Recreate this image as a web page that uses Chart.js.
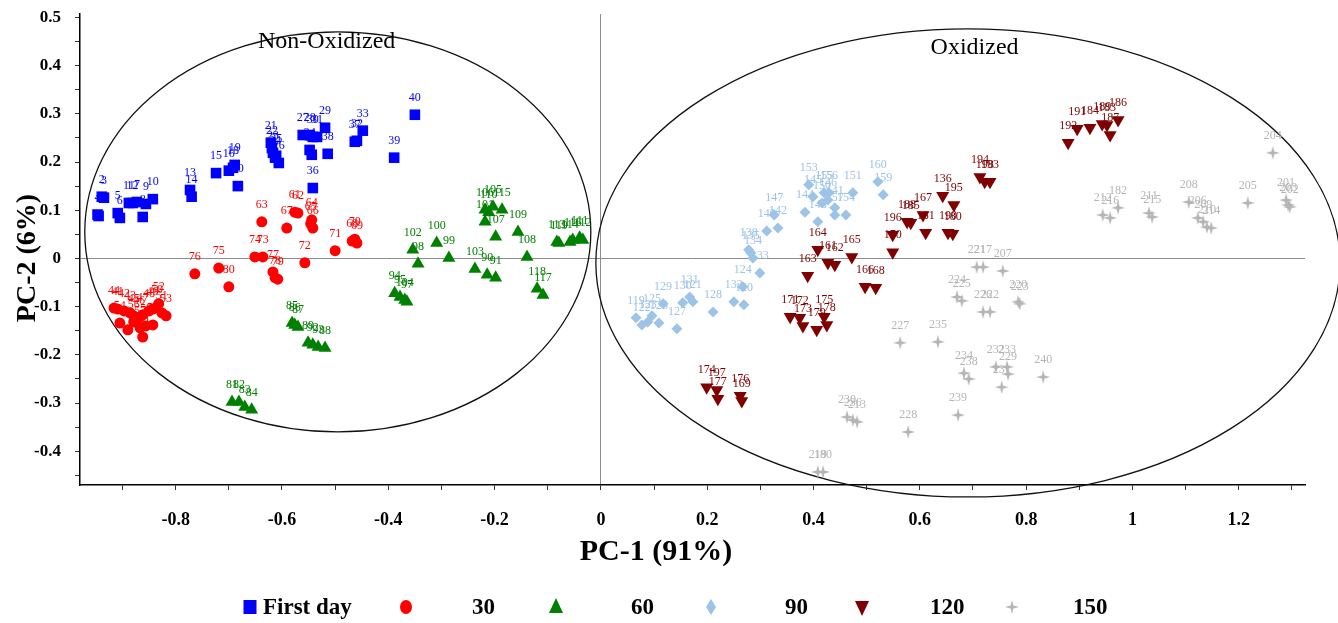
<!DOCTYPE html>
<html>
<head>
<meta charset="utf-8">
<script src="https://cdn.jsdelivr.net/npm/chart.js@4.4.1/dist/chart.umd.min.js"></script>
<style>
  html, body { margin: 0; padding: 0; background: #fff; }
  #wrap { width: 1338px; height: 623px; }
</style>
</head>
<body>
<div id="wrap"><canvas id="c" width="1338" height="623"></canvas></div>
<script>
// PCA score plot: PC-1 vs PC-2, samples grouped by storage day.

// First day
const fdLabels = ["1","4","2","3","5","6","11","12","7","8","9","10","13","14","15","16","18","19","20","21","22","23","24","25","26","27","28","30","31","34","35","29","38","36","32","37","33","39","40"];
const fdX = [-0.945,-0.947,-0.939,-0.935,-0.909,-0.905,-0.888,-0.881,-0.873,-0.862,-0.856,-0.843,-0.773,-0.770,-0.724,-0.700,-0.692,-0.689,-0.683,-0.621,-0.619,-0.617,-0.613,-0.611,-0.606,-0.561,-0.548,-0.542,-0.534,-0.548,-0.544,-0.519,-0.514,-0.542,-0.459,-0.463,-0.448,-0.389,-0.350];
const fdY = [0.088,0.091,0.128,0.126,0.094,0.084,0.115,0.115,0.117,0.086,0.113,0.123,0.142,0.128,0.177,0.182,0.188,0.194,0.150,0.240,0.229,0.219,0.209,0.213,0.198,0.256,0.256,0.252,0.252,0.225,0.215,0.271,0.217,0.146,0.244,0.242,0.265,0.209,0.298];

// day 30
const d30Labels = ["44","41","42","43","45","46","47","48","49","50","52","51","53","54","55","56","57","58","59","60","63","67","61","62","64","65","66","68","69","70","71","72","73","74","75","76","77","78","79","80"];
const d30X = [-0.916,-0.909,-0.897,-0.886,-0.879,-0.869,-0.862,-0.850,-0.843,-0.835,-0.832,-0.826,-0.818,-0.905,-0.890,-0.879,-0.867,-0.856,-0.843,-0.862,-0.638,-0.591,-0.576,-0.570,-0.544,-0.546,-0.542,-0.468,-0.459,-0.463,-0.500,-0.557,-0.636,-0.651,-0.719,-0.764,-0.617,-0.613,-0.608,-0.700];
const d30Y = [-0.103,-0.105,-0.109,-0.113,-0.119,-0.123,-0.117,-0.109,-0.105,-0.101,-0.094,-0.113,-0.119,-0.134,-0.148,-0.132,-0.144,-0.140,-0.138,-0.163,0.076,0.063,0.096,0.094,0.080,0.072,0.063,0.036,0.032,0.040,0.016,-0.009,0.003,0.003,-0.020,-0.032,-0.028,-0.040,-0.043,-0.059];

// day 60
const d60Labels = ["81","82","83","84","85","86","87","89","92","93","88","94","95","104","97","102","98","100","99","103","90","91","106","110","105","115","101","107","109","108","118","117","113","119","114","116","111","112"];
const d60X = [-0.694,-0.681,-0.670,-0.657,-0.581,-0.576,-0.570,-0.551,-0.542,-0.532,-0.519,-0.388,-0.378,-0.369,-0.365,-0.354,-0.344,-0.309,-0.286,-0.237,-0.214,-0.198,-0.218,-0.211,-0.203,-0.186,-0.218,-0.198,-0.156,-0.139,-0.120,-0.109,-0.083,-0.079,-0.058,-0.053,-0.040,-0.034];
const d60Y = [-0.298,-0.298,-0.308,-0.314,-0.134,-0.138,-0.142,-0.175,-0.179,-0.184,-0.186,-0.072,-0.080,-0.086,-0.090,0.018,-0.011,0.032,0.001,-0.022,-0.034,-0.040,0.101,0.096,0.107,0.101,0.076,0.045,0.055,0.003,-0.063,-0.076,0.034,0.032,0.034,0.038,0.043,0.038];

// day 90
const d90Labels = ["119","122","123","125","126","129","127","130","131","121","128","132","124","120","133","135","138","134","140","142","147","144","148","145","153","150","155","156","146","141","157","154","151","160","159"];
const d90X = [0.066,0.077,0.088,0.096,0.109,0.117,0.143,0.154,0.167,0.173,0.211,0.250,0.267,0.269,0.299,0.282,0.278,0.286,0.312,0.333,0.326,0.384,0.408,0.399,0.391,0.416,0.420,0.429,0.427,0.440,0.440,0.461,0.474,0.521,0.531];
const d90Y = [-0.123,-0.138,-0.132,-0.119,-0.134,-0.094,-0.146,-0.092,-0.080,-0.090,-0.111,-0.090,-0.059,-0.096,-0.030,0.011,0.018,0.001,0.057,0.063,0.090,0.096,0.076,0.128,0.153,0.115,0.136,0.136,0.121,0.105,0.090,0.090,0.136,0.159,0.132];

// day 120
const d120Labels = ["164","161","162","165","163","166","168","171","172","173","179","175","178","196","170","188","185","167","181","136","195","190","180","194","198","193","192","191","184","189","183","187","186","174","197","177","176","169"];
const d120X = [0.408,0.427,0.440,0.472,0.389,0.497,0.517,0.356,0.374,0.380,0.406,0.420,0.425,0.549,0.549,0.576,0.583,0.606,0.611,0.643,0.664,0.653,0.662,0.713,0.722,0.732,0.879,0.896,0.920,0.943,0.952,0.958,0.973,0.199,0.218,0.220,0.262,0.265];
const d120Y = [0.018,-0.009,-0.013,0.003,-0.036,-0.059,-0.061,-0.121,-0.123,-0.140,-0.148,-0.121,-0.138,0.049,0.013,0.076,0.074,0.090,0.053,0.130,0.111,0.053,0.051,0.169,0.159,0.159,0.240,0.269,0.271,0.279,0.277,0.256,0.287,-0.267,-0.273,-0.291,-0.285,-0.296];

// day 150
const d150Labels = ["204","205","201","203","202","208","206","209","210","214","211","215","212","216","182","221","217","207","224","225","220","223","226","222","227","235","234","238","232","233","229","231","230","236","213","228","239","240","219","180"];
const d150X = [1.264,1.217,1.289,1.293,1.296,1.106,1.123,1.133,1.140,1.148,1.031,1.037,0.944,0.958,0.973,0.707,0.719,0.756,0.670,0.679,0.785,0.788,0.719,0.732,0.563,0.634,0.683,0.692,0.743,0.764,0.766,0.754,0.463,0.474,0.482,0.578,0.672,0.832,0.408,0.418];
const d150Y = [0.219,0.115,0.121,0.111,0.107,0.117,0.084,0.076,0.065,0.063,0.094,0.086,0.090,0.084,0.105,-0.018,-0.018,-0.026,-0.080,-0.088,-0.090,-0.094,-0.111,-0.111,-0.175,-0.173,-0.238,-0.250,-0.225,-0.225,-0.240,-0.267,-0.329,-0.335,-0.339,-0.360,-0.325,-0.246,-0.443,-0.443];

const groupNames = ["First day", "30", "60", "90", "120", "150"];
const xTicks = [-0.9,-0.8,-0.7,-0.6,-0.5,-0.4,-0.3,-0.2,-0.1,0,0.1,0.2,0.3,0.4,0.5,0.6,0.7,0.8,0.9,1,1.1,1.2,1.3];
const xTickLabels = ["", "-0.8", "", "-0.6", "", "-0.4", "", "-0.2", "", "0", "", "0.2", "", "0.4", "", "0.6", "", "0.8", "", "1", "", "1.2", ""];
const yTicks = [0.5,0.45,0.4,0.35,0.3,0.25,0.2,0.15,0.1,0.05,0,-0.05,-0.1,-0.15,-0.2,-0.25,-0.3,-0.35,-0.4,-0.45];
const yTickLabels = ["0.5","","0.4","","0.3","","0.2","","0.1","","0","","-0.1","","-0.2","","-0.3","","-0.4",""];

const SERIF = "'Liberation Serif', 'Times New Roman', serif";
const COLORS = ["#0000ff", "#ff0000", "#008000", "#9dc3e6", "#7f0000", "#b5b5b5"];

// four-pointed star used for the day-150 group
function makeStar(size, color) {
  const c = document.createElement("canvas");
  c.width = size; c.height = size;
  const g = c.getContext("2d");
  const m = size / 2, k = size * 0.1;
  g.fillStyle = color;
  g.beginPath();
  g.moveTo(m, 0); g.lineTo(m + k, m - k); g.lineTo(size, m); g.lineTo(m + k, m + k);
  g.lineTo(m, size); g.lineTo(m - k, m + k); g.lineTo(0, m); g.lineTo(m - k, m - k);
  g.closePath(); g.fill();
  return c;
}
const starImg = makeStar(14, COLORS[5]);

function pts(xs, ys) { return xs.map((v, i) => ({ x: v, y: ys[i] })); }

const groups = [
  { labels: fdLabels, xs: fdX, ys: fdY, style: "rect", r: 7.5, rot: 0 },
  { labels: d30Labels, xs: d30X, ys: d30Y, style: "circle", r: 5.5, rot: 0 },
  { labels: d60Labels, xs: d60X, ys: d60Y, style: "triangle", r: 7.5, rot: 0 },
  { labels: d90Labels, xs: d90X, ys: d90Y, style: "rectRot", r: 5.5, rot: 0 },
  { labels: d120Labels, xs: d120X, ys: d120Y, style: "triangle", r: 7.5, rot: 180 },
  { labels: d150Labels, xs: d150X, ys: d150Y, style: starImg, r: 7, rot: 0 },
];

const datasets = groups.map((g, i) => ({
  label: groupNames[i],
  data: pts(g.xs, g.ys),
  pointStyle: g.style,
  pointRadius: g.r,
  pointRotation: g.rot,
  backgroundColor: COLORS[i],
  borderColor: COLORS[i],
  borderWidth: 0,
  pointLabels: g.labels,
}));

// group ellipses (data units)
const ELLIPSES = [
  { cx: -0.495, cy: 0.055, rx: 0.476, ry: 0.415 },
  { cx: 0.6905, cy: -0.0093, rx: 0.700, ry: 0.4855 },
];

function isZero(v) { return Math.abs(v) < 1e-9; }

const decor = {
  id: "decor",
  beforeDatasetsDraw(chart) {
    const { ctx, scales: { x, y } } = chart;
    ctx.save();
    ctx.strokeStyle = "#111";
    ctx.lineWidth = 1.3;
    for (const e of ELLIPSES) {
      const cx = x.getPixelForValue(e.cx), cy = y.getPixelForValue(e.cy);
      const rx = x.getPixelForValue(e.cx + e.rx) - cx;
      const ry = cy - y.getPixelForValue(e.cy + e.ry);
      ctx.beginPath();
      ctx.ellipse(cx, cy, rx, ry, 0, 0, Math.PI * 2);
      ctx.stroke();
    }
    ctx.restore();
  },
  afterDatasetsDraw(chart) {
    const { ctx, scales: { x, y } } = chart;
    ctx.save();
    ctx.font = `12px ${SERIF}`;
    ctx.textAlign = "center";
    ctx.textBaseline = "middle";
    chart.data.datasets.forEach((ds, di) => {
      const meta = chart.getDatasetMeta(di);
      ctx.fillStyle = COLORS[di];
      meta.data.forEach((el, i) => {
        ctx.fillText(ds.pointLabels[i], el.x, el.y - 17);
      });
    });
    // group captions
    ctx.fillStyle = "#000";
    ctx.font = `24px ${SERIF}`;
    ctx.fillText("Non-Oxidized", x.getPixelForValue(-0.516), y.getPixelForValue(0.449));
    ctx.fillText("Oxidized", x.getPixelForValue(0.703), y.getPixelForValue(0.437));
    ctx.restore();
  },
  afterDraw(chart) {
    const { ctx } = chart;
    ctx.save();
    ctx.fillStyle = "#000";
    ctx.textAlign = "center";
    ctx.textBaseline = "middle";
    ctx.font = `bold 30px ${SERIF}`;
    ctx.fillText("PC-1 (91%)", 656, 552);
    ctx.font = `bold 28px ${SERIF}`;
    ctx.save();
    ctx.translate(28, 258);
    ctx.rotate(-Math.PI / 2);
    ctx.fillText("PC-2 (6%)", 0, 0);
    ctx.restore();

    // legend row
    const ly = 607;
    const items = [
      { mx: 250, tx: 263 }, { mx: 406, tx: 472 }, { mx: 556, tx: 631 },
      { mx: 711, tx: 785 }, { mx: 862, tx: 930 }, { mx: 1012, tx: 1073 },
    ];
    items.forEach((it, i) => {
      ctx.fillStyle = COLORS[i];
      ctx.beginPath();
      const m = it.mx;
      if (i === 0) ctx.rect(m - 6.5, ly - 7, 13, 14);
      else if (i === 1) ctx.ellipse(m, ly, 6, 7, 0, 0, Math.PI * 2);
      else if (i === 2) { ctx.moveTo(m, ly - 9); ctx.lineTo(m + 7, ly + 6); ctx.lineTo(m - 7, ly + 6); ctx.closePath(); }
      else if (i === 3) { ctx.moveTo(m, ly - 8); ctx.lineTo(m + 5, ly); ctx.lineTo(m, ly + 8); ctx.lineTo(m - 5, ly); ctx.closePath(); }
      else if (i === 4) { ctx.moveTo(m - 7, ly - 6); ctx.lineTo(m + 7, ly - 6); ctx.lineTo(m, ly + 9); ctx.closePath(); }
      if (i < 5) ctx.fill();
      else ctx.drawImage(starImg, m - 7, ly - 7);
      ctx.fillStyle = "#000";
      ctx.font = `bold 23px ${SERIF}`;
      ctx.textAlign = "left";
      ctx.fillText(groupNames[i], it.tx, ly + 1);
    });
    ctx.restore();
  },
};

new Chart(document.getElementById("c"), {
  type: "scatter",
  data: { datasets },
  options: {
    responsive: false,
    devicePixelRatio: 1,
    animation: false,
    layout: { padding: { top: 14, right: 33, left: 0, bottom: 0 } },
    plugins: { legend: { display: false }, tooltip: { enabled: false } },
    scales: {
      x: {
        type: "linear",
        min: -0.98,
        max: 1.3246,
        afterFit: (s) => { s.height = 138; s.paddingLeft = 0; s.paddingRight = 0; },
        afterBuildTicks: (s) => { s.ticks = xTicks.map((v) => ({ value: v })); },
        ticks: {
          autoSkip: false,
          maxRotation: 0,
          padding: 20,
          color: "#000",
          font: { family: SERIF, size: 18, weight: "bold" },
          callback: (v, i) => xTickLabels[i],
        },
        grid: {
          drawOnChartArea: true,
          color: (c) => (c.tick && isZero(c.tick.value) ? "#8c8c8c" : "rgba(0,0,0,0)"),
          tickColor: "#333",
          tickLength: 5,
          lineWidth: 1,
        },
        border: { display: true, color: "#000", width: 1.5 },
      },
      y: {
        type: "linear",
        min: -0.47,
        max: 0.507,
        afterFit: (s) => { s.width = 80; s.paddingTop = 0; s.paddingBottom = 0; },
        afterBuildTicks: (s) => { s.ticks = yTicks.map((v) => ({ value: v })); },
        ticks: {
          autoSkip: false,
          padding: 14,
          color: "#000",
          font: { family: SERIF, size: 17, weight: "bold" },
          callback: (v, i) => yTickLabels[i],
        },
        grid: {
          drawOnChartArea: true,
          color: (c) => (c.tick && isZero(c.tick.value) ? "#8c8c8c" : "rgba(0,0,0,0)"),
          tickColor: "#333",
          tickLength: 5,
          lineWidth: 1,
        },
        border: { display: true, color: "#000", width: 1.5 },
      },
    },
  },
  plugins: [decor],
});
</script>
</body>
</html>
